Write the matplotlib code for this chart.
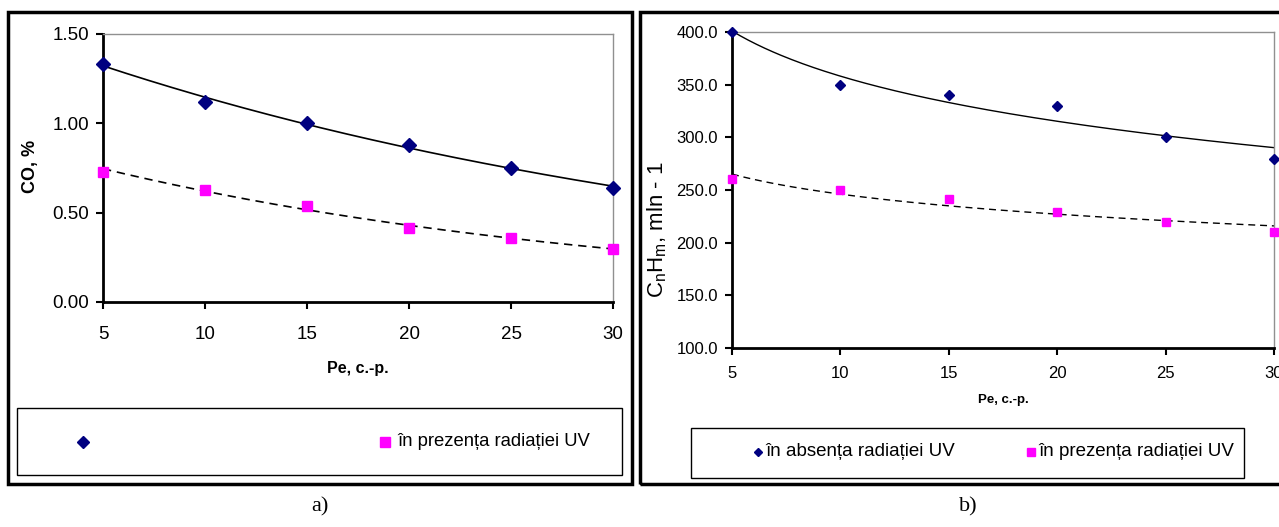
import numpy as np
import matplotlib
matplotlib.use('Agg')
import matplotlib.pyplot as plt
from matplotlib.patches import Rectangle
from matplotlib.lines import Line2D

plt.rcParams['font.family'] = ['Liberation Sans', 'DejaVu Sans']
plt.rcParams['mathtext.fontset'] = 'custom'
plt.rcParams['mathtext.rm'] = 'Liberation Sans'
plt.rcParams['mathtext.it'] = 'Liberation Sans:italic'

# data
pe = [5, 10, 15, 20, 25, 30]
co_fara_uv = [1.33, 1.12, 1.00, 0.88, 0.75, 0.64]
co_cu_uv = [0.73, 0.625, 0.54, 0.415, 0.36, 0.295]
cnhm_fara_uv = [400, 350, 340, 330, 300, 279]
cnhm_cu_uv = [260, 250, 241, 229, 220, 210]

lbl_abs = 'în absența radiației UV'
lbl_prez = 'în prezența radiației UV'

W, H = 1279, 527
fig = plt.figure(figsize=(W/100, H/100), dpi=100)

def fx(x):
    return x/W
def fy(y):
    return 1 - y/H

navy = '#000080'
mag = '#FF00FF'

x = np.array(pe, dtype=float)
xs = np.linspace(5, 30, 200)

def style_axes(ax, lab_size):
    ax.spines['left'].set_linewidth(2)
    ax.spines['bottom'].set_linewidth(2)
    ax.spines['top'].set_color('#909090')
    ax.spines['right'].set_color('#909090')
    ax.spines['top'].set_linewidth(1)
    ax.spines['right'].set_linewidth(1)
    ax.tick_params(direction='out', length=5, width=1.5, labelsize=lab_size, pad=5)
    ax.set_xlim(5, 30)
    ax.set_xticks(pe)

# ---- a) CO
ax1 = fig.add_axes([fx(103), fy(302), fx(613) - fx(103), fy(34) - fy(302)])
style_axes(ax1, 13.5)
ax1.set_ylim(0, 1.5)
ax1.set_yticks([0, 0.5, 1.0, 1.5])
ax1.yaxis.set_major_formatter(plt.FormatStrFormatter('%.2f'))
ax1.tick_params(axis='x', pad=12)
# exponential trendlines (as in Excel)
k1 = np.polyfit(x, np.log(co_fara_uv), 1)
k2 = np.polyfit(x, np.log(co_cu_uv), 1)
ax1.plot(xs, np.exp(np.polyval(k1, xs)), color='black', lw=1.2)
ax1.plot(xs, np.exp(np.polyval(k2, xs)), color='black', lw=1.2, dashes=(5, 3.5))
ax1.plot(pe, co_fara_uv, 'D', color=navy, ms=7, clip_on=False, zorder=5)
ax1.plot(pe, co_cu_uv, 's', color=mag, ms=7, clip_on=False, zorder=5)
fig.text(fx(358), fy(368), 'Pe, c.-p.', ha='center', va='center', fontsize=11.5, fontweight='bold')
fig.text(fx(30), fy(166), 'CO, %', ha='center', va='center', fontsize=13, fontweight='bold', rotation=90)

# ---- b) CnHm
ax2 = fig.add_axes([fx(732), fy(348), fx(1274) - fx(732), fy(32) - fy(348)])
style_axes(ax2, 12)
ax2.set_ylim(100, 400)
ax2.set_yticks([100, 150, 200, 250, 300, 350, 400])
ax2.yaxis.set_major_formatter(plt.FormatStrFormatter('%.1f'))
ax2.tick_params(axis='x', pad=8)
# logarithmic trendlines
k3 = np.polyfit(np.log(x), cnhm_fara_uv, 1)
k4 = np.polyfit(np.log(x), cnhm_cu_uv, 1)
ax2.plot(xs, np.polyval(k3, np.log(xs)), color='black', lw=1.0)
ax2.plot(xs, np.polyval(k4, np.log(xs)), color='black', lw=1.0, dashes=(5, 3.5))
ax2.plot(pe, cnhm_fara_uv, 'D', color=navy, ms=5.5, clip_on=False, zorder=5)
ax2.plot(pe, cnhm_cu_uv, 's', color=mag, ms=6, clip_on=False, zorder=5)
fig.text(fx(1003), fy(400), 'Pe, c.-p.', ha='center', va='center', fontsize=9.5, fontweight='bold')
fig.text(fx(657), fy(230), r'C$_{\mathregular{n}}$H$_{\mathregular{m}}$, mln - 1', ha='center', va='center',
         fontsize=16, rotation=90)

# ---- panel frames
fig.patches.append(Rectangle((fx(8), fy(484)), fx(632) - fx(8), fy(12) - fy(484), transform=fig.transFigure,
                             fill=False, ec='black', lw=2.5))
fig.patches.append(Rectangle((fx(640), fy(484)), fx(1300) - fx(640), fy(12) - fy(484), transform=fig.transFigure,
                             fill=False, ec='black', lw=2.5))

# ---- legends
fig.patches.append(Rectangle((fx(17), fy(475)), fx(622) - fx(17), fy(408) - fy(475), transform=fig.transFigure,
                             fill=False, ec='black', lw=1))
fig.lines.append(Line2D([fx(83)], [fy(442)], marker='D', color=navy, ms=6.5, transform=fig.transFigure))
fig.lines.append(Line2D([fx(385)], [fy(442)], marker='s', color=mag, ms=6.5, transform=fig.transFigure))
fig.text(fx(397), fy(442), lbl_prez, ha='left', va='center', fontsize=13.3)

fig.patches.append(Rectangle((fx(691), fy(478)), fx(1244) - fx(691), fy(428) - fy(478), transform=fig.transFigure,
                             fill=False, ec='black', lw=1))
fig.lines.append(Line2D([fx(758)], [fy(452)], marker='D', color=navy, ms=4.5, transform=fig.transFigure))
fig.text(fx(765), fy(452), lbl_abs, ha='left', va='center', fontsize=13.5)
fig.lines.append(Line2D([fx(1031)], [fy(452)], marker='s', color=mag, ms=5.5, transform=fig.transFigure))
fig.text(fx(1038), fy(452), lbl_prez, ha='left', va='center', fontsize=13.5)

# ---- captions
fig.text(fx(320), fy(507), 'a)', ha='center', va='center', fontsize=16, family='Liberation Serif')
fig.text(fx(968), fy(507), 'b)', ha='center', va='center', fontsize=16, family='Liberation Serif')

fig.savefig('out.png', dpi=100)
